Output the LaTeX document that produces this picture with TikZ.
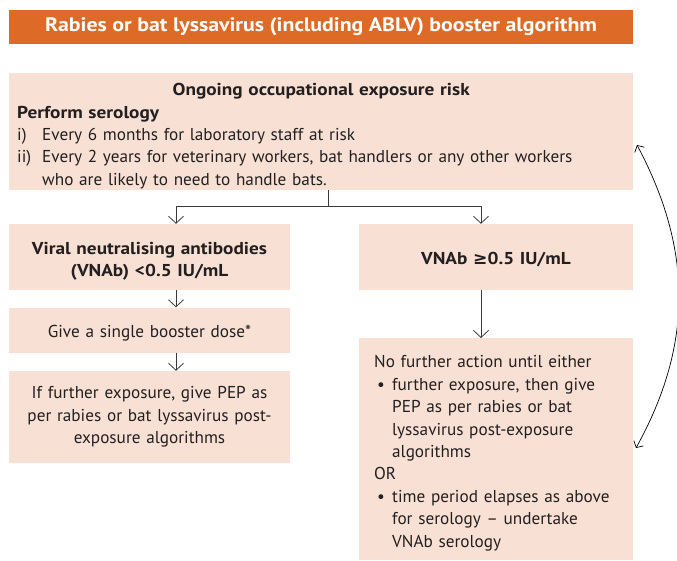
\documentclass[tikz,border=0pt]{standalone}
\usepackage{fontspec}
\setmainfont{PT Sans}[BoldFeatures={FakeStretch=1.12}]
\newfontfamily\symf{DejaVu Sans}
\usetikzlibrary{arrows.meta}
\definecolor{hdrc}{HTML}{DD6B27}
\definecolor{peach}{HTML}{F8E1D4}
\definecolor{arrc}{HTML}{3A3A3A}
\definecolor{ink}{HTML}{231F20}
\newcommand{\itemrow}[3]{\makebox[#1][l]{#2}\parbox[t]{\dimexpr\linewidth-#1\relax}{\raggedright #3\strut}\par\prevdepth=\dp\strutbox}
\tikzset{
  panel/.style={fill=peach, draw=none, inner sep=0pt},
  txt/.style={inner sep=0pt, text=ink, font=\fontsize{17.2}{22.4}\selectfont},
  boldtxt/.style={txt, font=\fontsize{17.2}{22.4}\selectfont\bfseries},
  flow/.style={draw=arrc, line width=0.8pt, -{Straight Barb[length=7pt,width=15pt,line width=0.8pt]}},
  loop/.style={draw=black, line width=0.7pt, {Straight Barb[length=5pt,width=11pt,line width=0.7pt]}-{Straight Barb[length=5pt,width=11pt,line width=0.7pt]}}
}
\begin{document}
\begin{tikzpicture}[x=1pt,y=-1pt]
\useasboundingbox (0,0) rectangle (677,560);
\node[fill=hdrc, text=white, minimum width=624pt, minimum height=34pt, inner sep=0pt,
  font=\fontsize{19.5}{20}\selectfont\bfseries] (title) at (321,27)
  {Rabies or bat lyssavirus (including ABLV) booster algorithm};

% panels
\node[panel, anchor=north west, minimum width=624pt, minimum height=117pt] (top) at (9,73) {};
\node[panel, minimum width=281pt, minimum height=66pt] (low) at (149.5,257) {};
\node[panel, minimum width=274pt, minimum height=66pt] (high) at (496,257) {};
\node[panel, minimum width=281pt, minimum height=45pt] (boost) at (149.5,330) {};
\node[panel, minimum width=281pt, minimum height=92pt] (pep) at (149.5,417) {};
\node[panel, anchor=north west, minimum width=274pt, minimum height=222pt] (wait) at (359,338) {};

% texts
\node[txt, text width=608pt, align=left] (topText) at ([yshift=-6pt]top.center) {%
{\centering\bfseries Ongoing occupational exposure risk\par}
{\bfseries Perform serology}\par
\itemrow{25pt}{i)}{Every 6 months for laboratory staff at risk}
\itemrow{25pt}{ii)}{Every 2 years for veterinary workers, bat handlers or any other workers\\who are likely to need to handle bats.}};

\node[boldtxt, text width=265pt, align=center] (lowText) at ([yshift=-4pt]low.center)
  {Viral neutralising antibodies\\(VNAb) <0.5 IU/mL};
\node[boldtxt, text width=258pt, align=center] (highText) at ([yshift=-3pt]high.center)
  {VNAb {\symf ≥}0.5 IU/mL};
\node[txt, text width=265pt, align=center] (boostText) at ([yshift=-3pt]boost.center)
  {Give a single booster dose*};
\node[txt, text width=265pt, align=center] (pepText) at (pep.center)
  {If further exposure, give PEP as\\per rabies or bat lyssavirus post-\\exposure algorithms};
\node[txt, text width=244pt, align=left] (waitText) at ([yshift=-5.5pt]wait.center) {%
No further action until either\par
\itemrow{18pt}{\hspace{3pt}•}{further exposure, then give\\PEP as per rabies or bat\\lyssavirus post-exposure\\algorithms}
OR\par
\itemrow{18pt}{\hspace{3pt}•}{time period elapses as above\\for serology – undertake\\VNAb serology}};

% connectors
\coordinate (split) at ([xshift=7pt]top.south);
\draw[draw=arrc, line width=0.8pt] (split) -- ++(0,16) coordinate (junc);
\draw[flow] (junc) -| ([xshift=26.5pt]low.north);
\draw[flow] (junc) -| ([xshift=-15pt]high.north);
\draw[flow] ([xshift=26.5pt]low.south) -- ([xshift=26.5pt]boost.north);
\draw[flow] ([xshift=26.5pt]boost.south) -- ([xshift=26.5pt]pep.north);
\draw[flow] ([xshift=-15pt]high.south) -- ([xshift=-15pt]high.south |- wait.north);

\coordinate (loopTop) at (637,145);
\coordinate (loopBot) at (636,448);
\draw[loop] (loopTop) .. controls (693,250) and (693,345) .. (loopBot);
\end{tikzpicture}
\end{document}
